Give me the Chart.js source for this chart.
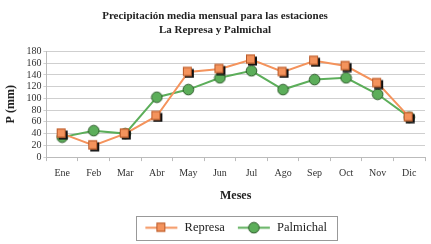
<!DOCTYPE html>
<html>
<head>
<meta charset="utf-8">
<script src="https://cdn.jsdelivr.net/npm/chart.js@4"></script>
<style>
  html, body { margin: 0; padding: 0; background: #fff; }
  #wrap { width: 431px; height: 244px; }
</style>
</head>
<body>
<div id="wrap"><canvas id="lluvia"></canvas></div>
<script>
const meses = ["Ene", "Feb", "Mar", "Abr", "May", "Jun", "Jul", "Ago", "Sep", "Oct", "Nov", "Dic"];
const represa = [40, 20, 40, 70, 145, 150, 166, 145, 164, 155, 126, 68];
const palmichal = [34, 45, 40, 102, 115, 135, 147, 115, 132, 135, 107, 68];
const yTicks = [0, 20, 40, 60, 80, 100, 120, 140, 160, 180];

const naranja = "#f4935c";
const verde = "#5cae5a";
const serif = "'Liberation Serif', 'DejaVu Serif', serif";

// marker images: square with a dark drop shadow, round green dot
function cuadro(conLinea) {
  const c = document.createElement("canvas");
  c.width = conLinea ? 34 : 13;
  c.height = 13;
  const g = c.getContext("2d");
  const x0 = conLinea ? 12 : 1;
  if (conLinea) {
    g.strokeStyle = naranja; g.lineWidth = 2;
    g.beginPath(); g.moveTo(1, 6.5); g.lineTo(33, 6.5); g.stroke();
  } else {
    g.fillStyle = "#111";
    g.fillRect(x0 + 2, 3.5, 9, 9);
  }
  g.fillStyle = naranja;
  g.fillRect(x0, 1.5, 9, 9);
  g.strokeStyle = "#b85a2a"; g.lineWidth = 1;
  g.strokeRect(x0 + 0.5, 2, 8, 8);
  return c;
}
function bolita(conLinea) {
  const c = document.createElement("canvas");
  c.width = conLinea ? 34 : 13;
  c.height = 13;
  const g = c.getContext("2d");
  const cx = conLinea ? 17 : 6.5;
  if (conLinea) {
    g.strokeStyle = verde; g.lineWidth = 2;
    g.beginPath(); g.moveTo(1, 6.5); g.lineTo(33, 6.5); g.stroke();
  }
  g.fillStyle = verde;
  g.strokeStyle = "#2d5a2a"; g.lineWidth = 1;
  g.beginPath(); g.arc(cx, 6.5, 5.3, 0, Math.PI * 2); g.fill(); g.stroke();
  return c;
}

// legend centred under the plot area, with a thin frame round it
const marcoLeyenda = {
  id: "marcoLeyenda",
  afterLayout(chart) {
    chart.legend.left = chart.chartArea.left;
    chart.legend.right = chart.chartArea.right;
  },
  afterDraw(chart) {
    const cajas = chart.legend.legendHitBoxes;
    if (!cajas || !cajas.length) return;
    let l = Infinity, r = -Infinity, t = Infinity, b = -Infinity;
    cajas.forEach(h => {
      l = Math.min(l, h.left); r = Math.max(r, h.left + h.width);
      t = Math.min(t, h.top); b = Math.max(b, h.top + h.height);
    });
    const ctx = chart.ctx;
    ctx.save();
    ctx.strokeStyle = "#999";
    ctx.lineWidth = 1;
    ctx.strokeRect(Math.round(l - 8) + 0.5, Math.round(t - 6) + 0.5, Math.round(r - l + 18), Math.round(b - t + 11));
    ctx.restore();
  }
};

new Chart(document.getElementById("lluvia"), {
  type: "line",
  data: {
    labels: meses,
    datasets: [
      {
        label: "Represa",
        data: represa,
        borderColor: naranja,
        backgroundColor: naranja,
        borderWidth: 2,
        pointStyle: cuadro(false),
        legendStyle: cuadro(true),
        tension: 0
      },
      {
        label: "Palmichal",
        data: palmichal,
        borderColor: verde,
        backgroundColor: verde,
        borderWidth: 2,
        pointStyle: bolita(false),
        legendStyle: bolita(true),
        tension: 0
      }
    ]
  },
  options: {
    responsive: true,
    maintainAspectRatio: false,
    animation: false,
    layout: { padding: { left: 4, right: 5, top: 2, bottom: 0 } },
    plugins: {
      title: {
        display: true,
        text: ["Precipitación media mensual para las estaciones", "La Represa y Palmichal"],
        color: "#222",
        font: { family: serif, size: 11, weight: "bold" },
        padding: { top: 8, bottom: 15 }
      },
      legend: {
        position: "bottom",
        labels: {
          usePointStyle: true,
          pointStyleWidth: 34,
          color: "#222",
          font: { family: serif, size: 12.5 },
          padding: 12,
          generateLabels(chart) {
            return chart.data.datasets.map((ds, i) => ({
              text: ds.label,
              pointStyle: ds.legendStyle,
              fontColor: "#222",
              lineWidth: 0,
              datasetIndex: i
            }));
          }
        }
      },
      tooltip: { enabled: false }
    },
    scales: {
      x: {
        offset: true,
        grid: { drawOnChartArea: false, offset: true, tickLength: 4, color: "#bbb" },
        border: { color: "#bbb" },
        ticks: { color: "#333", font: { family: serif, size: 10 }, padding: 6 },
        title: {
          display: true,
          text: "Meses",
          color: "#222",
          font: { family: serif, size: 12, weight: "bold" },
          padding: { top: 4, bottom: 6 }
        }
      },
      y: {
        min: 0,
        max: 180,
        afterBuildTicks(axis) { axis.ticks = yTicks.map(v => ({ value: v })); },
        grid: { color: "#cfcfcf", tickLength: 3 },
        border: { color: "#bbb" },
        ticks: { color: "#333", font: { family: serif, size: 10 }, padding: 2, autoSkip: false },
        title: {
          display: true,
          text: "P (mm)",
          color: "#222",
          font: { family: serif, size: 12, weight: "bold" },
          padding: { top: 0, bottom: 6 }
        }
      }
    }
  },
  plugins: [marcoLeyenda]
});
</script>
</body>
</html>
